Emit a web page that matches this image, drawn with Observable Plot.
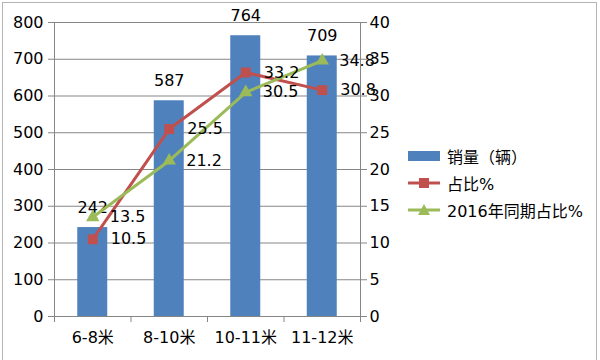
<!DOCTYPE html>
<html><head><meta charset="utf-8">
<script src="https://cdn.jsdelivr.net/npm/d3@7"></script>
<script src="https://cdn.jsdelivr.net/npm/@observablehq/plot@0.6"></script>
<style>
body{margin:0;background:#fff;}
#wrap{position:relative;width:600px;height:360px;overflow:hidden;font-family:"DejaVu Sans","Noto Sans CJK SC",sans-serif;}
#frame{position:absolute;left:2px;top:2px;width:595px;height:370px;border:1px solid #b4b4b4;box-sizing:border-box;pointer-events:none;}
#legend{position:absolute;left:408px;top:142px;font-size:16px;color:#000;}
#legend .row{display:flex;align-items:center;height:27px;}
#legend svg{margin-right:7px;}
</style></head>
<body><div id="wrap"><div id="frame"></div><div id="legend"></div></div>
<script>
const categories = ["6-8米","8-10米","10-11米","11-12米"];
const sales = [242, 587, 764, 709];
const share = [10.5, 25.5, 33.2, 30.8];
const share2016 = [13.5, 21.2, 30.5, 34.8];
const leftTicks = [0,100,200,300,400,500,600,700,800];
const rightTicks = [0,5,10,15,20,25,30,35,40];
const seriesNames = ["销量（辆）","占比%","2016年同期占比%"];

const BLUE="#4F81BD", RED="#C0504D", GREEN="#9BBB59";
const K = 20; // right axis 40 -> left axis 800
const rows = categories.map((c,i)=>({cat:c, xc:i+0.5, x1:i+0.5-0.196, x2:i+0.5+0.196, sales:sales[i], share:share[i], s16:share2016[i]}));

const font = {fontSize:16, fill:"#000"};
const chart = Plot.plot({
  width:600, height:360,
  marginLeft:54, marginRight:240, marginTop:22, marginBottom:44,
  style:{fontFamily:'"DejaVu Sans","Noto Sans CJK SC",sans-serif', fontSize:"16px", color:"#000", background:"transparent"},
  x:{type:"linear", domain:[0,4], axis:null},
  y:{domain:[0,800], axis:null},
  marks:[
    Plot.gridY(leftTicks.slice(1), {stroke:"#868686", strokeOpacity:1}),
    Plot.axisY({anchor:"left", ticks:leftTicks, tickSize:6, tickPadding:5, stroke:"#868686", fill:"#000", fontSize:16, label:null}),
    Plot.axisY({anchor:"right", ticks:rightTicks.map(v=>v*K), tickFormat:d=>String(d/K), tickSize:6, tickPadding:3, stroke:"#868686", fill:"#000", fontSize:16, label:null}),
    Plot.axisX({ticks:[0,1,2,3,4], tickSize:6, tickFormat:()=>"", stroke:"#868686", label:null}),
    Plot.axisX({ticks:rows.map(d=>d.xc), tickSize:0, tickPadding:15, tickFormat:v=>categories[Math.round(v-0.5)], fill:"#000", fontSize:16, label:null}),
    Plot.ruleX([0,4], {stroke:"#868686"}),
    Plot.ruleY([0], {stroke:"#868686"}),
    Plot.rectY(rows, {x1:"x1", x2:"x2", y:"sales", fill:BLUE}),
    Plot.text(rows, {x:"xc", y:"sales", text:d=>String(d.sales), dy:-20, ...font}),
    Plot.line(rows, {x:"xc", y:d=>d.share*K, stroke:RED, strokeWidth:3}),
    Plot.dot(rows, {x:"xc", y:d=>d.share*K, symbol:"square", r:5.6, fill:RED}),
    Plot.line(rows, {x:"xc", y:d=>d.s16*K, stroke:GREEN, strokeWidth:3}),
    Plot.dot(rows, {x:"xc", y:d=>d.s16*K, symbol:"triangle", r:5, fill:GREEN}),
    Plot.text(rows, {x:"xc", y:d=>d.share*K, text:d=>d.share.toFixed(1), dx:18, textAnchor:"start", ...font}),
    Plot.text(rows, {x:"xc", y:d=>d.s16*K, text:d=>d.s16.toFixed(1), dx:17, textAnchor:"start", ...font})
  ]
});
document.getElementById("wrap").prepend(chart);

const lg = document.getElementById("legend");
const swatches = [
  `<svg width="32" height="12"><rect x="0" y="1" width="32" height="10" fill="${BLUE}"/></svg>`,
  `<svg width="32" height="12"><line x1="0" y1="6" x2="32" y2="6" stroke="${RED}" stroke-width="3"/><rect x="11" y="1" width="10" height="10" fill="${RED}"/></svg>`,
  `<svg width="32" height="12"><line x1="0" y1="6" x2="32" y2="6" stroke="${GREEN}" stroke-width="3"/><path d="M16,0 L22,11 L10,11 Z" fill="${GREEN}"/></svg>`
];
seriesNames.forEach((n,i)=>{
  const r=document.createElement("div"); r.className="row";
  r.innerHTML = swatches[i]+`<span>${n}</span>`;
  lg.appendChild(r);
});
</script></body></html>
